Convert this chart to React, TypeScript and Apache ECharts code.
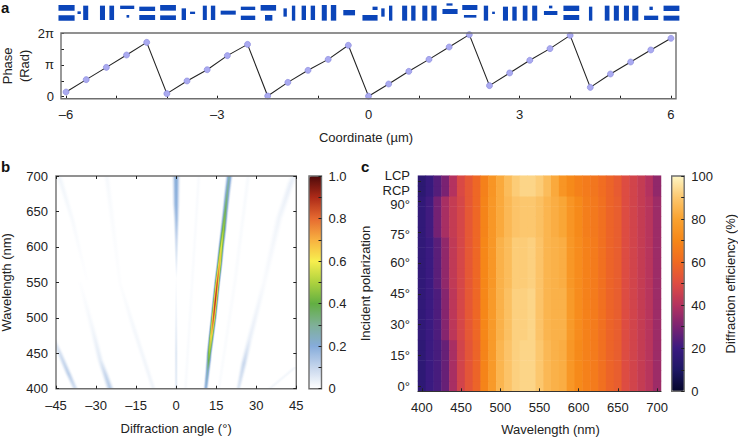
import React, { useEffect, useRef } from "react";
import * as echarts from "echarts";

const FONT = "Liberation Sans";
const INK = "#222222";
const FRAME = "#6e6e6e";
const PI = Math.PI;

// ---- panel a: phase profile
const coordinates = [-6, -5.6, -5.2, -4.8, -4.4, -4, -3.6, -3.2, -2.8, -2.4, -2, -1.6, -1.2, -0.8, -0.4, 0, 0.4, 0.8, 1.2, 1.6, 2, 2.4, 2.8, 3.2, 3.6, 4, 4.4, 4.8, 5.2, 5.6, 6];
const phases = [0.46, 1.68, 2.89, 4.11, 5.36, 0.3, 1.55, 2.66, 4.05, 5.16, 0.07, 1.41, 2.6, 3.68, 5.07, 0.05, 1.25, 2.5, 3.68, 4.9, 6.12, 1.09, 2.34, 3.59, 4.74, 6.05, 0.92, 2.24, 3.42, 4.61, 5.76];
const coordTicks = [-6, -5, -4, -3, -2, -1, 0, 1, 2, 3, 4, 5, 6];
const coordLabels = [-6, -3, 0, 3, 6];
const phaseTicks = [0, PI / 2, PI, (3 * PI) / 2, 2 * PI];
const phaseLabelValues = [0, PI, 2 * PI];
const phaseLabels = ["0", "π", "2π"];

// nano-bars: [cell position µm, left nm, right nm, top nm, bottom nm]
const nanoBars = [
  [-6, -150, 170, -160, -47], [-6, -150, 170, 47, 153],
  [-5.6, -173, -107, -33, 20], [-5.6, -60, 40, -147, 140],
  [-5.2, -127, -27, -147, 140], [-5.2, 60, 153, -147, 140],
  [-4.8, -127, 153, -147, -80], [-4.8, 0, 53, 40, 93],
  [-4.4, -147, 167, -127, -40], [-4.4, -147, 167, 40, 140],
  [-4, -133, 180, -160, -47], [-4, -133, 180, 47, 140],
  [-3.6, -107, -20, -93, 140], [-3.6, 60, 160, -27, 20],
  [-3.2, -87, -7, -147, 140], [-3.2, 73, 160, -147, 140],
  [-2.8, -133, 167, -47, 33],
  [-2.4, -133, 153, -127, -60], [-2.4, -133, 153, 53, 140],
  [-2, -140, 167, -160, -47], [-2, -53, 93, 40, 153],
  [-1.6, -87, -20, -93, 73], [-1.6, 80, 147, -147, 153],
  [-1.2, -127, -40, -147, 140], [-1.2, 53, 140, -147, 140],
  [-0.8, -127, -27, -160, 153], [-0.8, 53, 160, -160, 153],
  [-0.4, -100, 133, -60, 47],
  [0, 80, 180, -127, -60], [0, -120, 180, 40, 153],
  [0.4, -147, -80, -93, 73], [0.4, 7, 73, -147, 153],
  [0.8, -133, -33, -147, 153], [0.8, 47, 133, -147, 153],
  [1.2, -133, -33, -147, 153], [1.2, 47, 153, -147, 153],
  [1.6, -53, 67, -193, -147], [1.6, -133, 167, -80, 20],
  [2, -140, 160, -160, -60], [2, -107, 140, 40, 93],
  [2.4, -113, -27, -147, 153], [2.4, 53, 107, -27, 20],
  [2.8, -133, -33, -127, 153], [2.8, 53, 140, -127, 153],
  [3.2, -140, -47, -147, 153], [3.2, 47, 147, -147, 153],
  [3.6, -20, 47, -147, -93], [3.6, -120, 147, -40, 40],
  [4, -133, 180, -147, -40], [4, -133, 180, 40, 140],
  [4.4, -27, 40, -127, 153],
  [4.8, -113, -20, -147, 153], [4.8, 67, 167, -147, 153],
  [5.2, -133, -33, -147, 153], [5.2, 33, 153, -147, 153],
  [5.6, -27, 40, -127, -60], [5.6, -133, 147, 53, 140],
  [6, -147, 167, -147, -40], [6, -147, 167, 53, 153],
];

// ---- panel b: diffraction ridges, rows of [wavelength nm, angle °, peak, half width °]
const ridgeFarLeftLow = [[400, -37.8, 0.08, 1.4], [421, -40.3, 0.12, 1.5], [450, -43.6, 0.08, 1.5], [470, -46, 0.05, 1.4]];
const ridgeLeftLow = [[400, -24.7, 0.13, 1.7], [420, -26.5, 0.1, 1.6], [440, -28.4, 0.05, 1.5], [487, -31.5, 0.02, 1.5], [550, -36, 0.003, 1.3]];
const ridgeLeftFaint = [[400, -8.5, 0.025, 1.3], [487, -16, 0.018, 1.4], [548, -21, 0.005, 1.2], [640, -24, 0.01, 1.5], [700, -26, 0.016, 1.5]];
const ridgeFarLeftTop = [[553, -33.4, 0.002, 1.2], [640, -39, 0.014, 1.4], [694, -43.4, 0.024, 1.6], [700, -44, 0.024, 1.6]];
const ridgeZeroLow = [[400, 0, 0.05, 0.7], [450, 0, 0.06, 0.7], [500, 0, 0.03, 0.6], [555, 0, 0.005, 0.4]];
const ridgeZeroHigh = [[555, 0.1, 0.004, 0.4], [580, 0.1, 0.05, 0.6], [610, 0.1, 0.1, 0.9], [640, 0.1, 0.17, 1.2], [660, 0, 0.2, 1.5], [700, 0, 0.22, 1.7]];
const ridgeRightLow = [[400, 23.3, 0.06, 1.1], [435, 25.3, 0.1, 1.5], [470, 27.5, 0.04, 1.5], [550, 33, 0.012, 1.5], [640, 38.5, 0.025, 1.8], [690, 43, 0.04, 1.8], [700, 44, 0.035, 1.8]];
const ridgeFarRightLow = [[400, 35, 0.02, 1.4], [430, 44.5, 0.02, 1.4]];
const ridgeStreakNear = [[400, 3.5, 0.012, 1], [550, 6, 0.01, 1], [700, 8.5, 0.012, 1]];
const ridgeStreakFar = [[400, 16, 0.01, 1], [550, 22, 0.01, 1.2], [700, 27, 0.014, 1.2]];
const ridgeMain = [
  [400, 11.1, 0.2, 1.0], [425, 11.8, 0.28, 1.05], [440, 12.2, 0.42, 1.1], [450, 12.4, 0.52, 1.1], [475, 13.2, 0.72, 1.15],
  [500, 14, 0.9, 1.2], [525, 14.7, 0.96, 1.2], [550, 15.4, 0.9, 1.2], [575, 16.2, 0.76, 1.2], [600, 16.9, 0.62, 1.2],
  [625, 17.7, 0.52, 1.25], [650, 18.4, 0.4, 1.25], [675, 19.1, 0.33, 1.35], [700, 19.9, 0.28, 1.45],
];
const ridges = [ridgeFarLeftLow, ridgeLeftLow, ridgeLeftFaint, ridgeFarLeftTop, ridgeZeroLow, ridgeZeroHigh, ridgeRightLow, ridgeFarRightLow, ridgeStreakNear, ridgeStreakFar, ridgeMain];
const levelFractions = [0.08, 0.16, 0.25, 0.35, 0.45, 0.55, 0.65, 0.75, 0.85, 0.95];
const levelWidths = [1, 0.85, 0.74, 0.64, 0.56, 0.48, 0.41, 0.34, 0.22, 0.11];
const intensityColors = ["#ffffff", "#c6d6ec", "#86acdb", "#7fb096", "#62af42", "#aed23e", "#f8ef4e", "#f8b040", "#e66a30", "#ad2a18", "#4e0a0a"];

// ---- panel c: efficiency, profiles across wavelength
const wavelengths = ["400", "410", "420", "430", "440", "450", "460", "470", "480", "490", "500", "510", "520", "530", "540", "550", "560", "570", "580", "590", "600", "610", "620", "630", "640", "650", "660", "670", "680", "690", "700"];
const polarizations = ["0°", "5°", "10°", "15°", "20°", "25°", "30°", "35°", "40°", "45°", "50°", "55°", "60°", "65°", "70°", "75°", "80°", "85°", "90°", "RCP", "LCP"];
const polarizationTicks = ["0°", "15°", "30°", "45°", "60°", "75°", "90°", "RCP", "LCP"];
const polarizationLabelRows = [0.5, 3.5, 6.5, 9.5, 12.5, 15.3, 18.2, 19.6, 21];
const profileCircular = [15, 19, 24, 30, 40, 49, 54, 59, 68, 75, 82, 87, 91, 93, 93, 91, 87, 82, 75, 71, 68, 66, 64, 61, 58, 55, 50, 47, 44, 40, 34];
const profileHigh = [17, 21, 29, 38, 44, 48, 54, 59, 69, 76, 82, 86, 89, 90, 90, 88, 85, 83, 81, 75, 71, 67, 65, 62, 58, 56, 50, 47, 44, 41, 36];
const profileMidHigh = [17, 20, 25, 34, 43, 48, 54, 59, 70, 76, 84, 87, 91, 91, 92, 89, 85, 84, 83, 76, 72, 68, 66, 62, 58, 56, 50, 47, 44, 41, 36];
const profileMid = [17, 20, 23, 32, 42, 48, 54, 59, 70, 77, 84, 88, 92, 92, 93, 89, 85, 84, 84, 77, 72, 68, 66, 62, 58, 56, 50, 47, 44, 41, 36];
const profileLow = [16, 20, 22, 27, 38, 47, 53, 58, 69, 77, 85, 89, 92, 93, 93, 90, 86, 84, 83, 76, 71, 68, 66, 62, 58, 56, 50, 47, 44, 41, 36];
const rowProfiles = [profileLow, profileLow, profileLow, profileLow, profileLow, profileMid, profileMid, profileMid, profileMid, profileMid, profileMidHigh, profileMidHigh, profileMidHigh, profileMidHigh, profileMidHigh, profileHigh, profileHigh, profileHigh, profileHigh, profileCircular, profileCircular];
const efficiencyColors = ["#05052b", "#1d1764", "#3a1a80", "#7a2272", "#b4325f", "#dd4c42", "#f06a22", "#f68718", "#f9a230", "#fcc76e", "#fdf6c4"];

const hexToRgb = (h: string) => [1, 3, 5].map((i) => parseInt(h.slice(i, i + 2), 16));
const intensityColor = (v: number) => {
  const p = Math.min(Math.max(v, 0), 1) * (intensityColors.length - 1);
  const i = Math.min(Math.floor(p), intensityColors.length - 2);
  const a = hexToRgb(intensityColors[i]);
  const b = hexToRgb(intensityColors[i + 1]);
  const c = a.map((x, k) => Math.round(x + (b[k] - x) * (p - i)));
  return `rgb(${c[0]},${c[1]},${c[2]})`;
};

const dash = (v: number) => (v < 0 ? "–" + Math.abs(v) : String(v));
const baseText = { fontFamily: FONT, fontSize: 13, color: INK };

export default function App() {
  const ref = useRef<HTMLDivElement>(null);
  useEffect(() => {
    const chart = echarts.init(ref.current!, undefined, { renderer: "svg" });

    const fixed = { outerBoundsMode: "none" };
    const boxA = { left: 61, top: 33, width: 615, height: 65.7, ...fixed };
    const boxB = { left: 56, top: 176, width: 240.3, height: 212.7, ...fixed };
    const boxBarB = { left: 309, top: 176, width: 12.5, height: 212.7, ...fixed };
    const boxC = { left: 418, top: 175.7, width: 243, height: 215.6, ...fixed };
    const boxBarC = { left: 671.7, top: 176, width: 12.5, height: 215.3, ...fixed };
    const framed = { show: true, z: 10, borderColor: FRAME, borderWidth: 1.4, backgroundColor: "transparent" };
    const ticks = (extra: object = {}) => ({ show: true, inside: true, length: 3, lineStyle: { color: "#222", width: 1 }, ...extra });
    const hiddenX = (gridIndex: number, min: number, max: number) => ({ type: "value", gridIndex, min, max, show: false });
    const noLine = { show: false, onZero: false };

    const option: any = {
      animation: false,
      backgroundColor: "#ffffff",
      textStyle: { fontFamily: FONT },
      grid: [
        { left: 61, top: 0, width: 615, height: 22, show: false, ...fixed },
        { ...boxA, ...framed },
        { ...boxB, ...framed },
        { ...boxBarB, ...framed },
        { ...boxC, show: true, z: 10, borderWidth: 0, backgroundColor: "transparent" },
        { ...boxBarC, ...framed },
      ],
      xAxis: [
        hiddenX(0, -6.1, 6.1),
        {
          type: "value", gridIndex: 1, position: "bottom", min: -6.1, max: 6.1, splitLine: { show: false }, axisLine: noLine,
          axisTick: ticks({ customValues: coordTicks }),
          axisLabel: { ...baseText, margin: 9, customValues: coordLabels, formatter: (v: number) => dash(v) },
          name: "Coordinate (µm)", nameLocation: "middle", nameGap: 32, nameTextStyle: { ...baseText, padding: [0, 5, 0, 0] },
        },
        {
          type: "value", gridIndex: 2, position: "bottom", min: -45, max: 45, interval: 15, z: 10, splitLine: { show: false }, axisLine: noLine,
          axisTick: ticks(),
          axisLabel: { ...baseText, margin: 10, formatter: (v: number) => dash(v) },
          name: "Diffraction angle (°)", nameLocation: "middle", nameGap: 33, nameTextStyle: baseText,
        },
        {
          type: "value", gridIndex: 2, position: "top", min: -45, max: 45, interval: 15, z: 10, splitLine: { show: false },
          axisLine: noLine, axisTick: ticks(), axisLabel: { show: false },
        },
        hiddenX(3, 0, 1),
        {
          type: "category", gridIndex: 4, position: "bottom", data: wavelengths, z: 10, splitLine: { show: false },
          axisLine: { show: true, onZero: false, lineStyle: { color: "#333", width: 1 } },
          axisTick: ticks({ alignWithLabel: true, interval: 4 }),
          axisLabel: { ...baseText, margin: 10, interval: 4 },
          name: "Wavelength (nm)", nameLocation: "middle", nameGap: 32, nameTextStyle: { ...baseText, padding: [0, 0, 0, 22] },
        },
        hiddenX(5, 0, 1),
      ],
      yAxis: [
        { type: "value", gridIndex: 0, min: -260, max: 180, inverse: true, show: false },
        {
          type: "value", gridIndex: 1, position: "left", min: -0.2, max: 2 * PI, splitLine: { show: false }, axisLine: noLine,
          axisTick: ticks({ customValues: phaseTicks }),
          axisLabel: {
            ...baseText, margin: 7, customValues: phaseLabelValues,
            formatter: (v: number) => phaseLabels[Math.round(v / PI)],
          },
          name: "Phase\n(Rad)", nameLocation: "middle", nameGap: 28, nameRotate: 90, nameMoveOverlap: false,
          nameTextStyle: { ...baseText, lineHeight: 17 },
        },
        {
          type: "value", gridIndex: 2, position: "left", min: 400, max: 700, interval: 50, z: 10, splitLine: { show: false }, axisLine: noLine,
          axisTick: ticks(), axisLabel: { ...baseText, margin: 8 },
          name: "Wavelength (nm)", nameLocation: "middle", nameGap: 43, nameTextStyle: baseText,
        },
        {
          type: "value", gridIndex: 2, position: "right", min: 400, max: 700, interval: 50, z: 10, splitLine: { show: false },
          axisLine: noLine, axisTick: ticks(), axisLabel: { show: false },
        },
        {
          type: "value", gridIndex: 3, position: "right", min: 0, max: 1, interval: 0.1, z: 11, splitLine: { show: false },
          axisLine: noLine, axisTick: ticks(),
          axisLabel: {
            ...baseText, margin: 7,
            formatter: (v: number) => {
              const t = Math.round(v * 10);
              if (t % 2) return "";
              return t === 0 ? "0" : v.toFixed(1);
            },
          },
        },
        {
          type: "category", gridIndex: 4, position: "left", data: polarizations, z: 10, splitLine: { show: false }, axisLine: noLine,
          axisTick: ticks({ alignWithLabel: true, interval: (i: number) => polarizationTicks.includes(polarizations[i]) }),
          axisLabel: { show: false },
          name: "Incident polarization", nameLocation: "middle", nameGap: 46, nameTextStyle: baseText,
        },
        {
          type: "value", gridIndex: 5, position: "right", min: 0, max: 100, interval: 10, z: 11, splitLine: { show: false },
          axisLine: noLine, axisTick: ticks(),
          axisLabel: { ...baseText, margin: 7, formatter: (v: number) => (v % 20 ? "" : String(v)) },
          name: "Diffraction efficiency (%)", nameLocation: "middle", nameGap: 40, nameTextStyle: baseText,
        },
        {
          type: "value", gridIndex: 4, position: "left", min: 0, max: 21, splitLine: { show: false }, axisLine: noLine,
          axisTick: { show: false },
          axisLabel: {
            ...baseText, margin: 8, customValues: polarizationLabelRows,
            formatter: (v: number) => polarizationTicks[polarizationLabelRows.indexOf(v)],
          },
        },
      ],
      visualMap: [
        {
          type: "continuous", show: true, seriesIndex: 2, dimension: 1, min: 0, max: 1, calculable: false, hoverLink: false, padding: 0,
          left: boxBarB.left, top: boxBarB.top, itemWidth: boxBarB.width, itemHeight: boxBarB.height,
          inRange: { color: intensityColors }, outOfRange: { color: "#ffffff" },
        },
        {
          type: "continuous", show: true, seriesIndex: 3, dimension: 2, min: 0, max: 100, calculable: false, hoverLink: false, padding: 0,
          left: boxBarC.left, top: boxBarC.top, itemWidth: boxBarC.width, itemHeight: boxBarC.height,
          inRange: { color: efficiencyColors },
        },
      ],
      series: [
        {
          type: "custom", xAxisIndex: 0, yAxisIndex: 0, coordinateSystem: "cartesian2d", silent: true,
          data: nanoBars,
          encode: { x: 0, y: 3 },
          renderItem: (_: any, api: any) => {
            const cell = api.value(0);
            const a = api.coord([cell + api.value(1) / 1000, api.value(3)]);
            const b = api.coord([cell + api.value(2) / 1000, api.value(4)]);
            return { type: "rect", shape: { x: a[0], y: a[1], width: b[0] - a[0], height: b[1] - a[1] }, style: { fill: "#0b45b9" } };
          },
        },
        {
          type: "line", xAxisIndex: 1, yAxisIndex: 1, clip: false, silent: true,
          data: coordinates.map((x, i) => [x, phases[i]]),
          symbol: "circle", symbolSize: 6,
          lineStyle: { color: "#222", width: 1.1 },
          itemStyle: { color: "#aaaaf0", borderColor: "#8484dc", borderWidth: 0.6 },
        },
        {
          type: "custom", xAxisIndex: 2, yAxisIndex: 2, coordinateSystem: "cartesian2d", clip: true, silent: true,
          data: ridges.flatMap((_, r) => levelFractions.map((_f, l) => [r, l])),
          renderItem: (_: any, api: any) => {
            const rows = ridges[api.value(0)];
            const l = api.value(1);
            const f = levelFractions[l];
            const g = levelWidths[l];
            const left = rows.map((w) => api.coord([w[1] - w[3] * g, w[0]]));
            const right = rows.map((w) => api.coord([w[1] + w[3] * g, w[0]])).reverse();
            const lo = rows[0][0];
            const hi = rows[rows.length - 1][0];
            const stops = rows.map((w) => ({ offset: (hi - w[0]) / (hi - lo), color: intensityColor(w[2] * f) })).reverse();
            return {
              type: "polygon",
              shape: { points: left.concat(right) },
              style: { fill: new echarts.graphic.LinearGradient(0, 0, 0, 1, stops) },
            };
          },
        },
        {
          type: "heatmap", xAxisIndex: 5, yAxisIndex: 5, silent: true,
          data: polarizations.flatMap((_, r) => wavelengths.map((_w, c) => [c, r, rowProfiles[r][c]])),
          itemStyle: { borderWidth: 0 },
        },
      ],
      graphic: [
        { type: "text", left: 1, top: 0, style: { text: "a", font: `bold 15px ${FONT}`, fill: "#111" } },
        { type: "text", left: 1, top: 159, style: { text: "b", font: `bold 15px ${FONT}`, fill: "#111" } },
        { type: "text", left: 361, top: 159, style: { text: "c", font: `bold 15px ${FONT}`, fill: "#111" } },
      ],
    };

    chart.setOption(option);
    return () => chart.dispose();
  }, []);
  return <div ref={ref} style={{ position: "fixed", left: 0, top: 0, width: 738, height: 437 }} />;
}
